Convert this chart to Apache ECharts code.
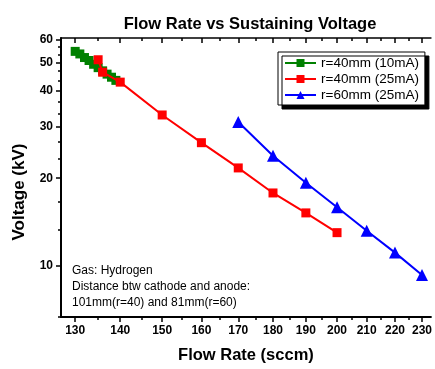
<!DOCTYPE html>
<html>
<head>
<meta charset="utf-8">
<script src="https://cdn.jsdelivr.net/npm/echarts@6/dist/echarts.min.js"></script>
<style>html,body{margin:0;padding:0;background:#fff}#c{width:435px;height:369px}</style>
</head>
<body>
<div id="c"></div>
<script>
// ---- data ----
var greenFlow = [130, 131, 132, 133, 134, 135, 136, 137, 138, 139];
var greenVolt = [54.6, 53.5, 52.0, 50.8, 49.3, 48.0, 46.8, 45.6, 44.5, 43.4];
var redFlow = [135, 136, 140, 150, 160, 170, 180, 190, 200];
var redVolt = [51.1, 46.3, 42.8, 33.0, 26.5, 21.7, 17.8, 15.2, 13.0];
var blueFlow = [170, 180, 190, 200, 210, 220, 230];
var blueVolt = [31.2, 23.9, 19.3, 15.9, 13.2, 11.1, 9.3];
var seriesNames = ['r=40mm (10mA)', 'r=40mm (25mA)', 'r=60mm (25mA)'];
var xMajor = [130, 140, 150, 160, 170, 180, 190, 200, 210, 220, 230];
var xMinor = [135, 145, 155, 165, 175, 185, 195, 205, 215, 225];
var yMajor = [10, 20, 30, 40, 50, 60];
var yMinor = [6.667, 13.333, 16.667, 23.333, 26.667, 33.333, 36.667, 43.333, 46.667, 53.333, 56.667];
var noteLines = ['Gas: Hydrogen', 'Distance btw cathode and anode:', '101mm(r=40) and 81mm(r=60)'];
var titleText = 'Flow Rate vs Sustaining Voltage';
var xName = 'Flow Rate (sccm)';
var yName = 'Voltage (kV)';

function pairs(xs, ys) { return xs.map(function (x, i) { return [x, ys[i]]; }); }

var XMIN = 127, XMAX = 233.4, YMIN = 6.667, YMAX = 60.7;
var FONT = 'Liberation Sans, Arial, sans-serif';

function xAx(pos, vals, len, inside, showLine, showLabel, extra) {
  var o = {
    type: 'log', logBase: 10, min: XMIN, max: XMAX, position: pos,
    axisLine: { show: showLine, lineStyle: { color: '#000', width: pos === 'bottom' ? 2 : 1.5 } },
    axisTick: { show: true, inside: inside, length: len, customValues: vals, lineStyle: { color: '#000', width: 1.5 } },
    axisLabel: { show: showLabel, customValues: vals, margin: 8, color: '#000', fontFamily: FONT, fontWeight: 'bold', fontSize: 12,
      formatter: function (v) { return String(Math.round(v)); } },
    splitLine: { show: false }, minorTick: { show: false }, minorSplitLine: { show: false }
  };
  for (var k in extra) o[k] = extra[k];
  return o;
}
function yAx(vals, len, showLine, showLabel, extra) {
  var o = {
    type: 'log', logBase: 10, min: YMIN, max: YMAX, position: 'left',
    axisLine: { show: showLine, lineStyle: { color: '#000', width: 2 } },
    axisTick: { show: true, inside: false, length: len, customValues: vals, lineStyle: { color: '#000', width: 1.5 } },
    axisLabel: { show: showLabel, customValues: vals, margin: 8, color: '#000', fontFamily: FONT, fontWeight: 'bold', fontSize: 12,
      formatter: function (v) { return String(Math.round(v)); } },
    splitLine: { show: false }, minorTick: { show: false }, minorSplitLine: { show: false }
  };
  for (var k in extra) o[k] = extra[k];
  return o;
}

var chart = echarts.init(document.getElementById('c'), null, { renderer: 'canvas' });
chart.setOption({
  animation: false,
  backgroundColor: '#fff',
  title: {
    text: titleText, left: 245, top: 11, textAlign: 'center',
    textStyle: { fontFamily: FONT, fontWeight: 'bold', fontSize: 16.5, color: '#000' }
  },
  grid: { left: 61, right: 2, top: 38, bottom: 48, containLabel: false },
  xAxis: [
    xAx('bottom', xMajor, 5, false, true, true, {
      name: xName, nameLocation: 'middle', nameGap: 30,
      nameTextStyle: { fontFamily: FONT, fontWeight: 'bold', fontSize: 16.5, color: '#000' }
    }),
    xAx('bottom', xMinor, 3, false, false, false, {}),
    xAx('top', xMajor, 5, true, true, false, {}),
    xAx('top', xMinor, 3, true, false, false, {})
  ],
  yAxis: [
    yAx(yMajor, 5, true, true, {}),
    yAx(yMinor, 3, false, false, {})
  ],
  legend: {
    orient: 'vertical', left: 278, top: 52,
    data: seriesNames,
    itemWidth: 31, itemHeight: 10, itemGap: 2,
    padding: [4, 6, 3, 6],
    backgroundColor: '#fff', borderColor: '#000', borderWidth: 1, borderRadius: 0,
    shadowColor: '#000', shadowOffsetX: 4, shadowOffsetY: 4, shadowBlur: 0,
    textStyle: { fontFamily: FONT, fontSize: 13.5, color: '#000' }
  },
  graphic: noteLines.map(function (t, i) {
    return { type: 'text', left: 72, top: 265 + i * 16, style: { text: t, fontFamily: FONT, fontSize: 12, fill: '#000' } };
  }).concat([{
    type: 'text', x: 19, y: 192, rotation: Math.PI / 2,
    style: { text: yName, fontFamily: FONT, fontWeight: 'bold', fontSize: 17, fill: '#000', align: 'center', verticalAlign: 'middle' }
  }]),
  series: [
    { name: seriesNames[0], type: 'line', data: pairs(greenFlow, greenVolt), symbol: 'rect', symbolSize: 9,
      itemStyle: { color: '#008000' }, lineStyle: { color: '#008000', width: 2 }, z: 2 },
    { name: seriesNames[1], type: 'line', data: pairs(redFlow, redVolt), symbol: 'rect', symbolSize: 9,
      itemStyle: { color: '#ff0000' }, lineStyle: { color: '#ff0000', width: 2 }, z: 3 },
    { name: seriesNames[2], type: 'line', data: pairs(blueFlow, blueVolt), symbol: 'triangle', symbolSize: 12,
      itemStyle: { color: '#0000ff' }, lineStyle: { color: '#0000ff', width: 2 }, z: 4 }
  ]
});
</script>
</body>
</html>
